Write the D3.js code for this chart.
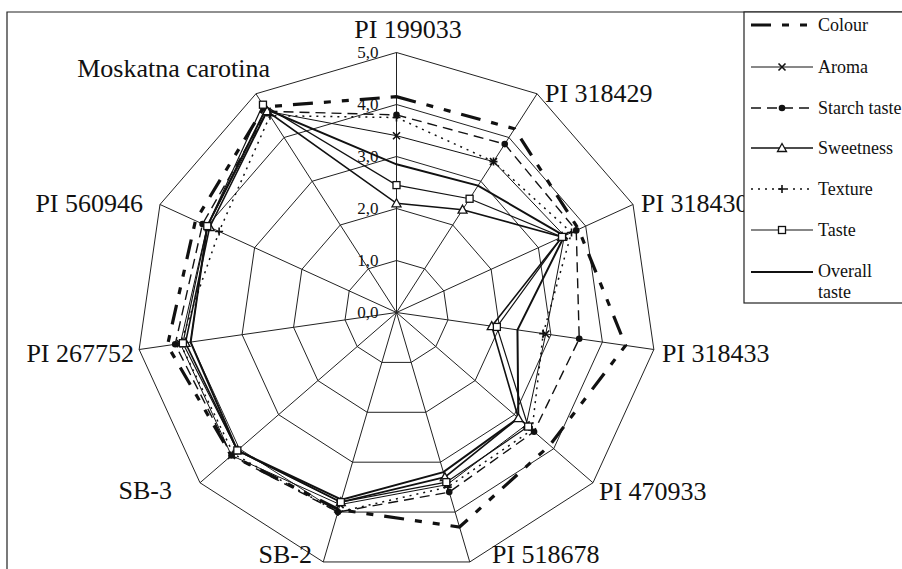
<!DOCTYPE html>
<html>
<head>
<meta charset="utf-8">
<script src="https://cdn.jsdelivr.net/npm/d3@7"></script>
<style>
  html, body { margin: 0; padding: 0; background: #fff; }
  svg { display: block; }
</style>
</head>
<body>
<svg id="chart" width="902" height="569"></svg>
<script>
// ---- data ----
const categories = ["PI 199033", "PI 318429", "PI 318430", "PI 318433", "PI 470933",
  "PI 518678", "SB-2", "SB-3", "PI 267752", "PI 560946", "Moskatna carotina"];
const tickValues = [0, 1, 2, 3, 4, 5];
const tickLabels = ["0,0", "1,0", "2,0", "3,0", "4,0", "5,0"];

const seriesNames = ["Colour", "Aroma", "Starch taste", "Sweetness", "Texture", "Taste", "Overall taste"];
const colour      = [4.15, 4.2, 3.85, 4.45, 3.9, 4.3, 3.95, 4.2, 4.45, 4.25, 4.7];
const aroma       = [3.4, 3.45, 3.55, 2.9, 3.3, 3.45, 3.85, 4.2, 4.2, 4.0, 4.6];
const starchTaste = [3.8, 3.85, 3.8, 3.55, 3.5, 3.6, 4.0, 4.2, 4.3, 4.1, 4.6];
const sweetness   = [2.1, 2.35, 3.5, 1.85, 3.1, 3.3, 3.8, 4.05, 4.1, 3.95, 4.6];
const texture     = [3.75, 3.45, 3.7, 2.85, 3.45, 3.5, 4.0, 4.15, 4.2, 3.75, 4.5];
const taste       = [2.45, 2.6, 3.5, 1.95, 3.35, 3.4, 3.8, 4.05, 4.15, 4.0, 4.75];
const overall     = [2.85, 2.9, 3.55, 2.35, 3.1, 3.2, 3.75, 4.05, 4.0, 4.0, 4.65];

// ---- styles (not data) ----
const FONT = "'Liberation Serif', 'Times New Roman', Times, serif";
const styles = {
  "Colour":        { values: colour,      width: 3.2, dash: "20,11,7,11,7,11", marker: null },
  "Aroma":         { values: aroma,       width: 1,   dash: null,   marker: "x" },
  "Starch taste":  { values: starchTaste, width: 1.4, dash: "10,6", marker: "circle" },
  "Sweetness":     { values: sweetness,   width: 1.6, dash: null,   marker: "triangle" },
  "Texture":       { values: texture,     width: 1.5, dash: "2,5",  marker: "plus" },
  "Taste":         { values: taste,       width: 1.2, dash: null,   marker: "square" },
  "Overall taste": { values: overall,     width: 2,   dash: null,   marker: null }
};

const svg = d3.select("#chart");
const cx = 396.5, cy = 312.5;
const r = d3.scaleLinear().domain([0, 5]).range([0, 260]);
const n = categories.length;
const angle = d3.scaleLinear().domain([0, n]).range([0, 2 * Math.PI]);

function txt(sel, x, y, size, anchor, s) {
  return sel.append("text").attr("x", x).attr("y", y)
    .attr("font-family", FONT).attr("font-size", size)
    .attr("text-anchor", anchor).attr("fill", "#111").text(s);
}

// outer frame
svg.append("path").attr("d", "M7,569 L7,12 L902,12")
  .attr("fill", "none").attr("stroke", "#222").attr("stroke-width", 1.2);

const g = svg.append("g").attr("transform", `translate(${cx},${cy})`);

// grid rings
const ringLine = d3.lineRadial().angle((d, i) => angle(i)).radius(d => r(d)).curve(d3.curveLinearClosed);
tickValues.filter(v => v > 0).forEach(v => {
  g.append("path").attr("d", ringLine(categories.map(() => v)))
    .attr("fill", "none").attr("stroke", "#222").attr("stroke-width", 1);
});
// spokes
categories.forEach((c, i) => {
  const p = d3.pointRadial(angle(i), r(5));
  g.append("line").attr("x1", 0).attr("y1", 0).attr("x2", p[0]).attr("y2", p[1])
    .attr("stroke", "#222").attr("stroke-width", 1);
});

// tick labels
tickValues.forEach((v, i) => {
  txt(g, -18, -r(v) + 5, 17, "end", tickLabels[i]);
});

// category labels (positions tuned to reference)
const labelPos = [
  { x: 408, y: 38, anchor: "middle" },
  { x: 545, y: 102, anchor: "start" },
  { x: 641, y: 212, anchor: "start" },
  { x: 662, y: 362, anchor: "start" },
  { x: 599, y: 500, anchor: "start" },
  { x: 492, y: 563, anchor: "start" },
  { x: 312, y: 563, anchor: "end" },
  { x: 172, y: 499, anchor: "end" },
  { x: 134, y: 362, anchor: "end" },
  { x: 143, y: 212, anchor: "end" },
  { x: 270, y: 77, anchor: "end" }
];
categories.forEach((c, i) => {
  txt(svg, labelPos[i].x, labelPos[i].y, 26, labelPos[i].anchor, c);
});

// markers
function drawMarker(sel, type, x, y) {
  if (type === "x") {
    sel.append("path").attr("d", `M${x-3.5},${y-3.5}L${x+3.5},${y+3.5}M${x-3.5},${y+3.5}L${x+3.5},${y-3.5}`)
      .attr("stroke", "#111").attr("stroke-width", 1.6).attr("fill", "none");
  } else if (type === "circle") {
    sel.append("circle").attr("cx", x).attr("cy", y).attr("r", 3.3).attr("fill", "#111");
  } else if (type === "triangle") {
    sel.append("path").attr("d", `M${x},${y-4.5}L${x+4.5},${y+3.5}L${x-4.5},${y+3.5}Z`)
      .attr("fill", "#fff").attr("stroke", "#111").attr("stroke-width", 1.3);
  } else if (type === "plus") {
    sel.append("path").attr("d", `M${x-4},${y}L${x+4},${y}M${x},${y-4}L${x},${y+4}`)
      .attr("stroke", "#111").attr("stroke-width", 1.6).attr("fill", "none");
  } else if (type === "square") {
    sel.append("rect").attr("x", x - 3.5).attr("y", y - 3.5).attr("width", 7).attr("height", 7)
      .attr("fill", "#fff").attr("stroke", "#111").attr("stroke-width", 1.3);
  }
}

// series
const dataLine = d3.lineRadial().angle((d, i) => angle(i)).radius(d => r(d)).curve(d3.curveLinearClosed);
seriesNames.forEach(name => {
  const s = styles[name];
  g.append("path").attr("d", dataLine(s.values))
    .attr("fill", "none").attr("stroke", "#111").attr("stroke-width", s.width)
    .attr("stroke-dasharray", s.dash);
});
seriesNames.forEach(name => {
  const s = styles[name];
  if (!s.marker) return;
  s.values.forEach((v, i) => {
    const p = d3.pointRadial(angle(i), r(v));
    drawMarker(g, s.marker, p[0], p[1]);
  });
});

// legend
const lg = svg.append("g");
lg.append("rect").attr("x", 744).attr("y", 12).attr("width", 200).attr("height", 291)
  .attr("fill", "#fff").attr("stroke", "#222").attr("stroke-width", 1.2);
const legendY = [25, 67, 108, 148, 189, 230, 272];
seriesNames.forEach((name, i) => {
  const s = styles[name];
  const y = legendY[i];
  lg.append("line").attr("x1", 751).attr("x2", 813).attr("y1", y).attr("y2", y)
    .attr("stroke", "#111").attr("stroke-width", s.width).attr("stroke-dasharray", s.dash);
  if (s.marker) drawMarker(lg, s.marker, 782, y);
  if (name === "Overall taste") {
    txt(lg, 818, y + 5, 18, "start", "Overall");
    txt(lg, 818, y + 26, 18, "start", "taste");
  } else {
    txt(lg, 818, y + 6, 18, "start", name);
  }
});
</script>
</body>
</html>
